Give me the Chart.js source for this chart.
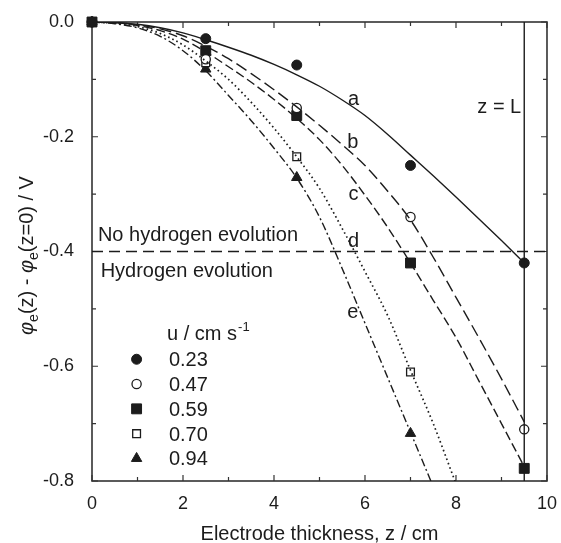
<!DOCTYPE html>
<html>
<head>
<meta charset="utf-8">
<script src="https://cdn.jsdelivr.net/npm/chart.js@4"></script>
<style>
  body { margin: 0; background: #fff; }
  #wrap { width: 561px; height: 543px; }
</style>
</head>
<body>
<div id="wrap"><canvas id="chart" width="561" height="543"></canvas></div>
<script>
// model curves a-e, every 0.5 cm
const zFit = [0, 0.5, 1, 1.5, 2, 2.5, 3, 3.5, 4, 4.5, 5, 5.5, 6, 6.5, 7, 7.5, 8, 8.5, 9, 9.5];
const curveA = [0, -0.001, -0.004, -0.010, -0.019, -0.031, -0.044, -0.058, -0.074, -0.092, -0.112, -0.136, -0.163, -0.196, -0.232, -0.268, -0.305, -0.343, -0.381, -0.420];
const curveB = [0, -0.001, -0.005, -0.012, -0.024, -0.042, -0.064, -0.090, -0.118, -0.148, -0.180, -0.214, -0.250, -0.295, -0.345, -0.410, -0.480, -0.550, -0.622, -0.697];
const curveC = [0, -0.001, -0.006, -0.015, -0.030, -0.052, -0.078, -0.105, -0.135, -0.168, -0.205, -0.250, -0.302, -0.358, -0.420, -0.485, -0.550, -0.625, -0.700, -0.775];
const curveD = [0, -0.002, -0.008, -0.020, -0.040, -0.068, -0.100, -0.140, -0.185, -0.235, -0.290, -0.360, -0.435, -0.512, -0.607, -0.700, -0.805];
const curveE = [0, -0.003, -0.010, -0.025, -0.050, -0.085, -0.128, -0.172, -0.220, -0.272, -0.340, -0.430, -0.525, -0.620, -0.715, -0.810];
const curveNames = ['a', 'b', 'c', 'd', 'e'];

// measured potentials
const zPts = [0, 2.5, 4.5, 7, 9.5];
const u023 = [0, -0.029, -0.075, -0.250, -0.420];
const u047 = [0, -0.065, -0.150, -0.340, -0.710];
const u059 = [0, -0.050, -0.163, -0.420, -0.778];
const u070 = [0, -0.071, -0.235, -0.610];
const u094 = [0, -0.082, -0.271, -0.717];
const seriesNames = ['0.23', '0.47', '0.59', '0.70', '0.94'];

// reference lines
const hydrogenLimit = -0.4;
const electrodeLength = 9.5;

const xTicks = [0, 2, 4, 6, 8, 10];
const yTicks = [0, -0.2, -0.4, -0.6, -0.8];

const FONT = '"Liberation Sans", Arial, sans-serif';
const INK = '#1c1c1c';

function toXY(xs, ys) {
    return ys.map((v, i) => ({ x: xs[i], y: v }));
}

function curveSet(vals, dash, width) {
    return {
        data: toXY(zFit, vals),
        showLine: true,
        borderColor: INK,
        borderWidth: width || 1.4,
        borderDash: dash,
        pointRadius: 0,
        cubicInterpolationMode: 'monotone',
        clip: 0
    };
}

function pointSet(vals, style, filled, r) {
    return {
        data: toXY(zPts, vals),
        showLine: false,
        pointStyle: style,
        pointRadius: r,
        pointBorderWidth: filled ? 1 : 1.3,
        pointBackgroundColor: filled ? INK : '#fff',
        pointBorderColor: INK,
        clip: false
    };
}

const pointSets = [
    pointSet(u023, 'circle', true, 5),
    pointSet(u047, 'circle', false, 4.6),
    pointSet(u059, 'rect', true, 7),
    pointSet(u070, 'rect', false, 5.5),
    pointSet(u094, 'triangle', true, 6)
];

const datasets = [
    curveSet(curveA, []),
    curveSet(curveB, [12, 5]),
    curveSet(curveC, [9, 4]),
    curveSet(curveD, [1.6, 3], 1.7),
    curveSet(curveE, [8, 3, 2, 3]),
    {
        data: [{ x: 0, y: hydrogenLimit }, { x: 10, y: hydrogenLimit }],
        showLine: true, borderColor: INK, borderWidth: 1.4, borderDash: [11, 6], pointRadius: 0, clip: 0
    },
    {
        data: [{ x: electrodeLength, y: 0 }, { x: electrodeLength, y: -0.8 }],
        showLine: true, borderColor: INK, borderWidth: 1.4, pointRadius: 0, clip: 0
    }
].concat(pointSets);

// frame, inward ticks, texts and legend
const decorations = {
    id: 'decorations',
    beforeDatasetsDraw(chart) {
        const { ctx, chartArea: a, scales } = chart;
        const x = scales.x, y = scales.y;
        ctx.save();
        ctx.strokeStyle = '#333';
        ctx.lineWidth = 1.6;
        ctx.strokeRect(a.left, a.top, a.right - a.left, a.bottom - a.top);
        ctx.lineWidth = 1.2;
        ctx.beginPath();
        for (let v = 0; v <= 10; v += 1) {
            const p = x.getPixelForValue(v);
            const len = v % 2 === 0 ? 6 : 4;
            ctx.moveTo(p, a.bottom); ctx.lineTo(p, a.bottom - len);
            ctx.moveTo(p, a.top); ctx.lineTo(p, a.top + len);
        }
        for (let k = 0; k <= 8; k++) {
            const p = y.getPixelForValue(-k / 10);
            const len = k % 2 === 0 ? 6 : 4;
            ctx.moveTo(a.left, p); ctx.lineTo(a.left + len, p);
            ctx.moveTo(a.right, p); ctx.lineTo(a.right - len, p);
        }
        ctx.stroke();
        ctx.restore();
    },
    afterDatasetsDraw(chart) {
        const { ctx, chartArea: a, scales } = chart;
        const px = v => scales.x.getPixelForValue(v);
        const py = v => scales.y.getPixelForValue(v);
        ctx.save();
        ctx.fillStyle = INK;
        ctx.font = '20px ' + FONT;
        ctx.textBaseline = 'alphabetic';

        // curve letters
        ctx.textAlign = 'center';
        const letterZ = [5.75, 5.73, 5.75, 5.75, 5.73];
        const letterV = [-0.145, -0.22, -0.31, -0.392, -0.516];
        curveNames.forEach((n, i) => ctx.fillText(n, px(letterZ[i]), py(letterV[i])));

        ctx.textAlign = 'right';
        ctx.fillText('z = L', px(electrodeLength) - 3, py(-0.158));

        ctx.textAlign = 'left';
        ctx.fillText('No hydrogen evolution', px(0.13), py(-0.382));
        ctx.fillText('Hydrogen evolution', px(0.19), py(-0.444));

        // legend
        ctx.fillText('u / cm s', px(1.65), py(-0.554));
        const w = ctx.measureText('u / cm s').width;
        ctx.font = '13px ' + FONT;
        ctx.fillText('-1', px(1.65) + w + 1, py(-0.554) - 9);
        ctx.font = '20px ' + FONT;
        seriesNames.forEach((name, i) => {
            const base = py(-0.6) + i * 24.8;
            ctx.fillStyle = INK;
            ctx.fillText(name, px(1.69), base);
            const ds = pointSets[i];
            const mx = px(0.98), my = base - 7;
            ctx.fillStyle = ds.pointBackgroundColor;
            ctx.strokeStyle = ds.pointBorderColor;
            ctx.lineWidth = ds.pointBorderWidth;
            Chart.helpers.drawPoint(ctx, { pointStyle: ds.pointStyle, radius: ds.pointRadius, borderWidth: ds.pointBorderWidth, rotation: 0 }, mx, my);
        });

        // axis titles
        ctx.fillStyle = INK;
        ctx.font = '20px ' + FONT;
        ctx.textAlign = 'center';
        ctx.fillText('Electrode thickness, z / cm', (a.left + a.right) / 2, 540);

        const parts = [
            { t: '\u03c6', f: 'italic 20px ' + FONT, dy: 0 },
            { t: 'e', f: '14px ' + FONT, dy: 5 },
            { t: '(z) - ', f: '20px ' + FONT, dy: 0 },
            { t: '\u03c6', f: 'italic 20px ' + FONT, dy: 0 },
            { t: 'e', f: '14px ' + FONT, dy: 5 },
            { t: '(z=0) / V', f: '20px ' + FONT, dy: 0 }
        ];
        let total = 0;
        parts.forEach(p => { ctx.font = p.f; p.w = ctx.measureText(p.t).width; total += p.w; });
        ctx.translate(33, (a.top + a.bottom) / 2 + 4);
        ctx.rotate(-Math.PI / 2);
        ctx.textAlign = 'left';
        let cx = -total / 2;
        parts.forEach(p => { ctx.font = p.f; ctx.fillText(p.t, cx, p.dy); cx += p.w; });
        ctx.restore();
    }
};

new Chart(document.getElementById('chart'), {
    type: 'scatter',
    data: { datasets: datasets },
    options: {
        responsive: false,
        animation: false,
        devicePixelRatio: 1,
        layout: { padding: { left: 0, top: 22, right: 10, bottom: 0 } },
        plugins: { legend: { display: false }, tooltip: { enabled: false } },
        scales: {
            x: {
                type: 'linear', min: 0, max: 10,
                afterFit: s => { s.height = 62; },
                afterBuildTicks: s => { s.ticks = xTicks.map(v => ({ value: v })); },
                grid: { display: false },
                border: { display: false },
                ticks: { color: INK, font: { size: 18, family: FONT }, padding: 4, maxRotation: 0 }
            },
            y: {
                type: 'linear', min: -0.8, max: 0,
                afterFit: s => { s.width = 92; },
                afterBuildTicks: s => { s.ticks = yTicks.map(v => ({ value: v })); },
                grid: { display: false },
                border: { display: false },
                ticks: { color: INK, font: { size: 18, family: FONT }, padding: 10, callback: v => v.toFixed(1) }
            }
        }
    },
    plugins: [decorations]
});
</script>
</body>
</html>
